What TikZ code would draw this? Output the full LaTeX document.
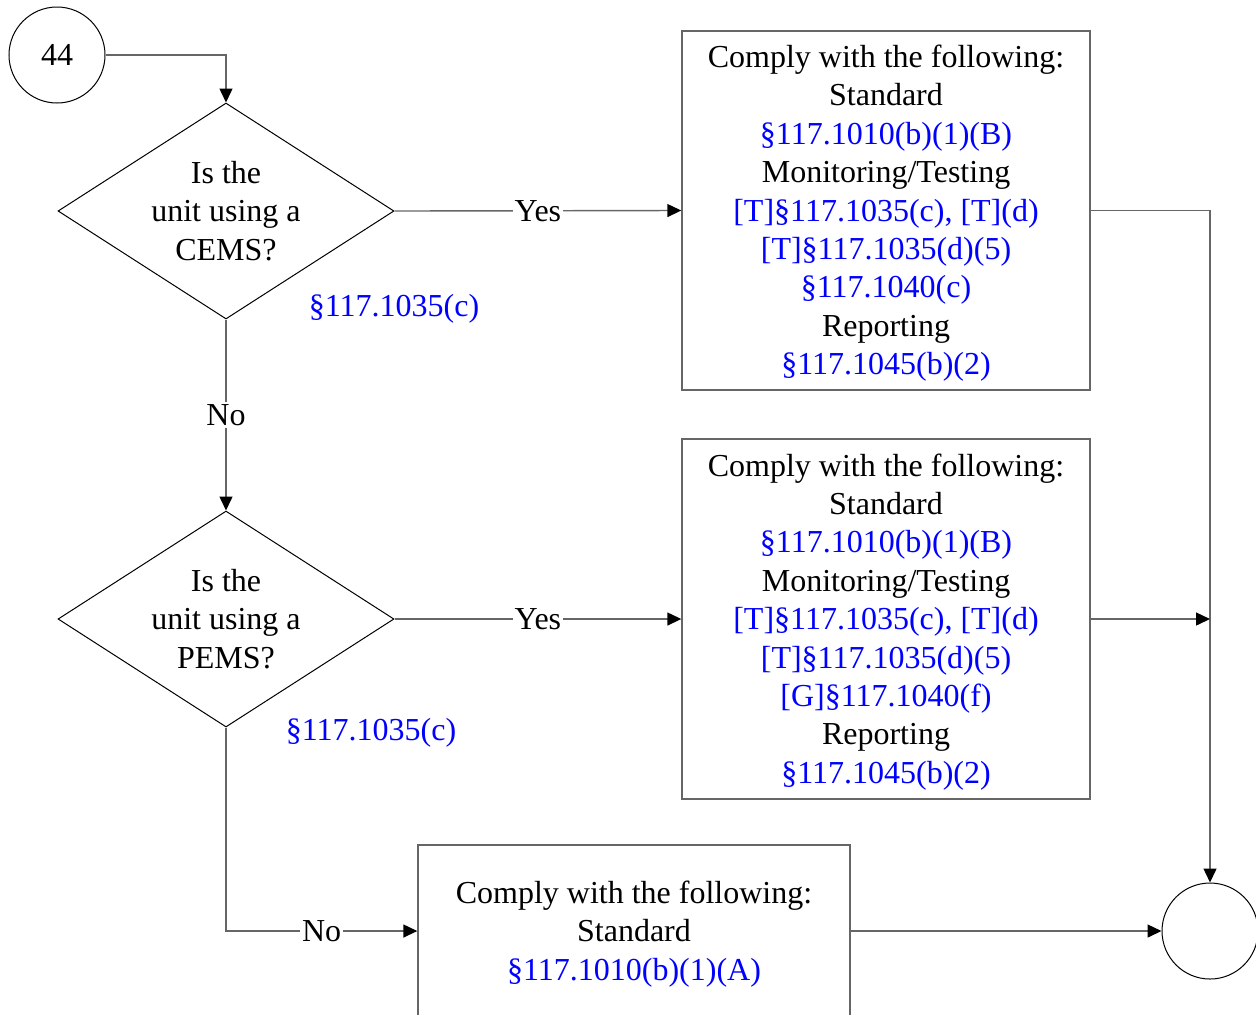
\documentclass[tikz,border=0pt]{standalone}
\usepackage{fontspec}
\setmainfont{Liberation Serif}
\usetikzlibrary{shapes.geometric,arrows.meta}

\begin{document}
\begin{tikzpicture}[x=0.5pt, y=-0.5pt,
	every node/.style={font=\fontsize{16}{19.2}\selectfont, align=center},
	conn/.style={draw=black!60, line width=0.7pt, -{Triangle[black, length=7pt, width=6.5pt]}},
	decision/.style={diamond, draw, line width=0.5pt, inner sep=0pt, aspect=1.556,
		minimum width=168pt, minimum height=108pt},
	todo/.style={rectangle, draw=black!60, line width=0.7pt, minimum width=204pt},
	conn_circ/.style={circle, draw, line width=0.5pt, minimum size=48pt, inner sep=0pt},
	ref/.style={text=blue},
	answer/.style={fill=white, inner sep=1pt}]

	\def\topgap{\rule{0pt}{14pt}}

	\useasboundingbox (0,0) rectangle (1256,1014);

	% start and end
	\node[conn_circ] (start) at (57,55) {44};
	\node[conn_circ] (end) at (1210,931) {};

	% the two questions
	\node[decision] (cems) at (226,211) {Is the\\unit using a\\CEMS?};
	\node[ref] (cemsref) at (394,309) {\S117.1035(c)};

	\node[decision] (pems) at (226,619) {Is the\\unit using a\\PEMS?};
	\node[ref] (pemsref) at (371,733) {\S117.1035(c)};

	% what to comply with
	\node[todo, minimum height=179.5pt] (cemsbox) at (886,210.5) {\topgap Comply with the following:\\
		Standard\\
		\textcolor{blue}{\S117.1010(b)(1)(B)}\\
		Monitoring/Testing\\
		\textcolor{blue}{[T]\S117.1035(c), [T](d)}\\
		\textcolor{blue}{[T]\S117.1035(d)(5)}\\
		\textcolor{blue}{\S117.1040(c)}\\
		Reporting\\
		\textcolor{blue}{\S117.1045(b)(2)}};

	\node[todo, minimum height=180pt] (pemsbox) at (886,619) {\topgap Comply with the following:\\
		Standard\\
		\textcolor{blue}{\S117.1010(b)(1)(B)}\\
		Monitoring/Testing\\
		\textcolor{blue}{[T]\S117.1035(c), [T](d)}\\
		\textcolor{blue}{[T]\S117.1035(d)(5)}\\
		\textcolor{blue}{[G]\S117.1040(f)}\\
		Reporting\\
		\textcolor{blue}{\S117.1045(b)(2)}};

	\node[todo, minimum width=216pt, minimum height=86pt] (stdbox) at (634,931) {\topgap Comply with the following:\\
		Standard\\
		\textcolor{blue}{\S117.1010(b)(1)(A)}};

	\coordinate (join) at (end.north |- pemsbox.east);

	% connectors
	\draw[conn] (start.east) -| (cems.north);
	\draw[conn] (cems.east) -- node[answer] {Yes} (cemsbox.west);
	\draw[conn] (cems.south) -- node[answer] {No} (pems.north);
	\draw[conn] (pems.east) -- node[answer] {Yes} (pemsbox.west);
	\draw[conn] (pems.south) |- node[answer, pos=0.75] {No} (stdbox.west);

	\draw[conn] (cemsbox.east) -| (end.north);
	\draw[conn] (pemsbox.east) -- (join);
	\draw[conn] (stdbox.east) -- (end.west);

\end{tikzpicture}
\end{document}
